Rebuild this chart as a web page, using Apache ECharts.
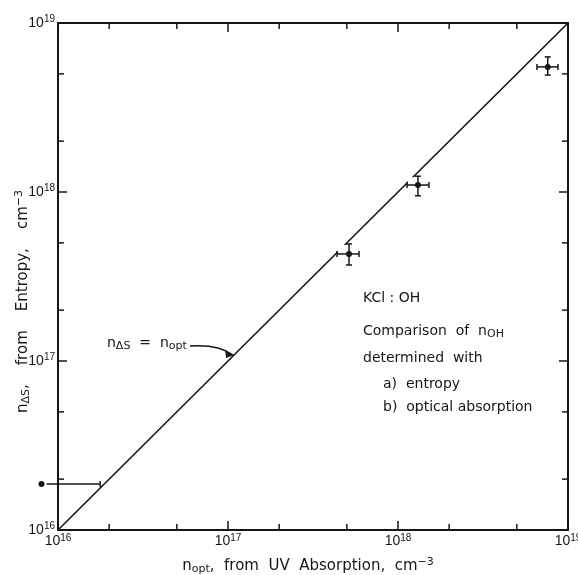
<!DOCTYPE html>
<html>
<head>
<meta charset="utf-8">
<script src="https://cdn.jsdelivr.net/npm/echarts@6/dist/echarts.min.js"></script>
<style>
  html, body { margin: 0; padding: 0; background: #fff; }
  #chart { width: 578px; height: 575px; }
</style>
</head>
<body>
<div id="chart"></div>
<script>
// axis range and minor ticks (1, 2, 5 per decade)
const axisMin = 1e16;
const axisMax = 1e19;
const minorTicks = [2e16, 5e16, 2e17, 5e17, 2e18, 5e18];

// measured points: n_opt (x) vs n_dS (y) with error bars
const ptX = [5.15e17, 1.31e18, 7.6e18];
const ptY = [4.3e17, 1.1e18, 5.5e18];
const xLo = [4.38e17, 1.13e18, 6.57e18];
const xHi = [5.9e17, 1.52e18, 8.73e18];
const yLo = [3.7e17, 9.5e17, 4.92e18];
const yHi = [4.93e17, 1.24e18, 6.3e18];

// lower point with a one-sided bar
const limX = [8e15];
const limY = [1.87e16];
const limXHi = [1.77e16];

// identity line n_dS = n_opt
const identity = [[1e16, 1e16], [1e19, 1e19]];

const INK = "#161616";
const FONT = "DejaVu Sans";
const TICKFONT = "Liberation Sans";

const powRich = {
  b: { fontSize: 14, color: INK, fontFamily: TICKFONT },
  s: { fontSize: 10, color: INK, fontFamily: TICKFONT, verticalAlign: "top", padding: [0, 0, 7, 0] }
};
const powLabel = (v) => `{b|10}{s|${Math.round(Math.log10(v))}}`;

const chart = echarts.init(document.getElementById("chart"));

function baseAxis(pos, showLabel) {
  return {
    type: "log",
    logBase: 10,
    min: axisMin,
    max: axisMax,
    position: pos,
    axisLine: { onZero: false, lineStyle: { color: INK, width: 2 } },
    axisTick: { inside: true, length: 9, lineStyle: { color: INK, width: 1.5 } },
    splitLine: { show: false },
    minorTick: { show: false },
    axisLabel: showLabel ? { formatter: powLabel, rich: powRich, margin: 3 } : { show: false }
  };
}

const minorData = minorTicks.map((v) => [v]);

function minorTickSeries(dir) {
  return {
    type: "custom",
    coordinateSystem: "cartesian2d",
    silent: true,
    data: minorData,
    renderItem(params, api) {
      const cs = params.coordSys;
      const v = api.value(0);
      const len = 6;
      const st = { stroke: INK, lineWidth: 1.5 };
      if (dir === "x") {
        const px = api.coord([v, axisMin])[0];
        return {
          type: "group",
          children: [
            { type: "line", shape: { x1: px, y1: cs.y + cs.height, x2: px, y2: cs.y + cs.height - len }, style: st },
            { type: "line", shape: { x1: px, y1: cs.y, x2: px, y2: cs.y + len }, style: st }
          ]
        };
      }
      const py = api.coord([axisMin, v])[1];
      return {
        type: "group",
        children: [
          { type: "line", shape: { x1: cs.x, y1: py, x2: cs.x + len, y2: py }, style: st },
          { type: "line", shape: { x1: cs.x + cs.width, y1: py, x2: cs.x + cs.width - len, y2: py }, style: st }
        ]
      };
    }
  };
}

const crossData = ptX.map((x, i) => [x, ptY[i], xLo[i], xHi[i], yLo[i], yHi[i]]);

const titleRich = {
  t: { fontSize: 15, color: INK, fontFamily: FONT },
  sub: { fontSize: 11, color: INK, fontFamily: FONT, verticalAlign: "bottom", padding: [6, 0, 0, 0] },
  sup: { fontSize: 11, color: INK, fontFamily: FONT, verticalAlign: "top", padding: [0, 0, 7, 0] }
};

option = {
  animation: false,
  backgroundColor: "#fff",
  grid: { left: 58, right: 10, top: 23, bottom: 45, outerBoundsMode: "none", containLabel: false },
  xAxis: [
    Object.assign(baseAxis("bottom", true), {
      name: "{t|n}{sub|opt}{t|,  from  UV  Absorption,  cm}{sup|−3}",
      nameLocation: "middle",
      nameGap: 27,
      nameMoveOverlap: false,
      nameTextStyle: { padding: [0, 10, 0, 0], rich: titleRich }
    }),
    baseAxis("top", false)
  ],
  yAxis: [
    Object.assign(baseAxis("left", true), {
      name: "{t|n}{sub|ΔS}{t|,    from    Entropy,    cm}{sup|−3}",
      nameLocation: "middle",
      nameRotate: 90,
      nameGap: 26,
      nameMoveOverlap: false,
      nameTextStyle: { padding: [0, 50, 0, 0], rich: titleRich }
    }),
    baseAxis("right", false)
  ],
  series: [
    minorTickSeries("x"),
    minorTickSeries("y"),
    {
      type: "line",
      data: identity,
      symbol: "none",
      silent: true,
      lineStyle: { color: INK, width: 1.6 },
      z: 3
    },
    {
      type: "custom",
      data: crossData,
      z: 5,
      renderItem(params, api) {
        const c = api.coord([api.value(0), api.value(1)]);
        const xl = api.coord([api.value(2), api.value(1)])[0];
        const xh = api.coord([api.value(3), api.value(1)])[0];
        const yl = api.coord([api.value(0), api.value(4)])[1];
        const yh = api.coord([api.value(0), api.value(5)])[1];
        const cap = 3;
        const st = { stroke: INK, lineWidth: 1.5 };
        return {
          type: "group",
          children: [
            { type: "rect", shape: { x: xl + 1, y: yh + 1, width: xh - xl - 2, height: yl - yh - 2 }, style: { fill: "#fff" } },
            { type: "line", shape: { x1: xl, y1: c[1], x2: xh, y2: c[1] }, style: st },
            { type: "line", shape: { x1: xl, y1: c[1] - cap, x2: xl, y2: c[1] + cap }, style: st },
            { type: "line", shape: { x1: xh, y1: c[1] - cap, x2: xh, y2: c[1] + cap }, style: st },
            { type: "line", shape: { x1: c[0], y1: yl, x2: c[0], y2: yh }, style: st },
            { type: "line", shape: { x1: c[0] - cap, y1: yl, x2: c[0] + cap, y2: yl }, style: st },
            { type: "line", shape: { x1: c[0] - cap, y1: yh, x2: c[0] + cap, y2: yh }, style: st },
            { type: "circle", shape: { cx: c[0], cy: c[1], r: 3 }, style: { fill: INK } }
          ]
        };
      }
    },
    {
      type: "custom",
      data: limX.map((x, i) => [x, limY[i], limXHi[i]]),
      clip: false,
      z: 5,
      renderItem(params, api) {
        const c = api.coord([api.value(0), api.value(1)]);
        const xh = api.coord([api.value(2), api.value(1)])[0];
        const st = { stroke: INK, lineWidth: 1.5 };
        return {
          type: "group",
          children: [
            { type: "line", shape: { x1: c[0] + 5, y1: c[1], x2: xh, y2: c[1] }, style: st },
            { type: "line", shape: { x1: xh, y1: c[1] - 3, x2: xh, y2: c[1] + 3 }, style: st },
            { type: "circle", shape: { cx: c[0], cy: c[1], r: 3 }, style: { fill: INK } }
          ]
        };
      }
    }
  ]
};

chart.setOption(option);

// annotations
const txt = { fontSize: 14, fill: INK, fontFamily: FONT };
const tip = chart.convertToPixel({ gridIndex: 0 }, [1.1e17, 1.1e17]);
const subSt = { fontSize: 11, fontFamily: FONT, fill: INK, verticalAlign: "bottom", padding: [6, 0, 0, 0] };
const annRich = { t: { fontSize: 14, fontFamily: FONT, fill: INK }, sub: subSt };

chart.setOption({
  graphic: [
    {
      type: "text", left: 107, top: 336,
      style: { text: "{t|n}{sub|ΔS}{t|  =  n}{sub|opt}", rich: annRich }
    },
    {
      type: "bezierCurve",
      shape: { x1: 190, y1: 346, cpx1: 218, cpy1: 344, x2: tip[0] - 2, y2: tip[1] + 1 },
      style: { stroke: INK, lineWidth: 1.4, fill: null }
    },
    {
      type: "polygon",
      shape: { points: [[tip[0] - 1, tip[1] + 1], [tip[0] - 10, tip[1] - 4], [tip[0] - 9, tip[1] + 4]] },
      style: { fill: INK }
    },
    { type: "text", left: 363, top: 291, style: Object.assign({ text: "KCl : OH" }, txt) },
    {
      type: "text", left: 363, top: 324,
      style: { text: "{t|Comparison  of  n}{sub|OH}", rich: annRich }
    },
    { type: "text", left: 363, top: 351, style: Object.assign({ text: "determined  with" }, txt) },
    { type: "text", left: 383, top: 377, style: Object.assign({ text: "a)  entropy" }, txt) },
    { type: "text", left: 383, top: 400, style: Object.assign({ text: "b)  optical absorption" }, txt) }
  ]
});
</script>
</body>
</html>
